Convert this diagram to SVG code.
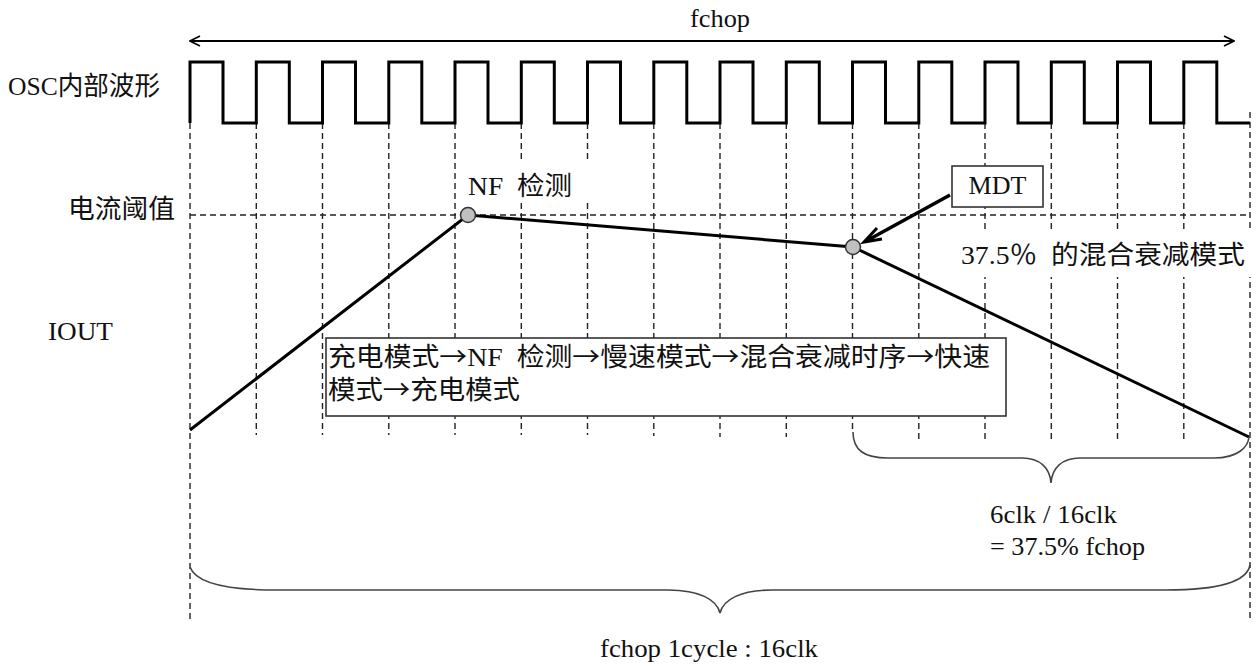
<svg xmlns="http://www.w3.org/2000/svg" width="1259" height="666" viewBox="0 0 1259 666">
<style>
.t{font-family:"Liberation Serif","Noto Sans CJK SC",serif;font-size:26px;fill:#111}
.ar{font-family:"Noto Sans CJK SC","DejaVu Sans",sans-serif}
.dash{stroke:#222;stroke-width:1.4;stroke-dasharray:6 4;fill:none}
.thick{stroke:#000;stroke-width:3;fill:none}
.brace{stroke:#444;stroke-width:1.6;fill:none}
.dot{fill:#c0c0c0;stroke:#333;stroke-width:1.5}
.box{fill:#fff;stroke:#333;stroke-width:1.6}
</style>
<defs>
<marker id="open" viewBox="0 0 12 12" refX="11" refY="6" markerWidth="12" markerHeight="12" markerUnits="userSpaceOnUse" orient="auto-start-reverse">
<path d="M1,1 L11,6 L1,11" fill="none" stroke="#000" stroke-width="1.6"/>
</marker>
</defs>
<rect width="1259" height="666" fill="#fff"/>
<g id="grid">
<line class="dash" x1="190" y1="123" x2="190" y2="622"/>
<line class="dash" x1="256.3" y1="123" x2="256.3" y2="435"/>
<line class="dash" x1="322.5" y1="123" x2="322.5" y2="435"/>
<line class="dash" x1="388.8" y1="123" x2="388.8" y2="435"/>
<line class="dash" x1="455" y1="123" x2="455" y2="435"/>
<line class="dash" x1="521.3" y1="123" x2="521.3" y2="435"/>
<line class="dash" x1="587.5" y1="123" x2="587.5" y2="435"/>
<line class="dash" x1="653.8" y1="123" x2="653.8" y2="436"/>
<line class="dash" x1="720" y1="123" x2="720" y2="437"/>
<line class="dash" x1="786.3" y1="123" x2="786.3" y2="437"/>
<line class="dash" x1="852.5" y1="123" x2="852.5" y2="432"/>
<line class="dash" x1="918.8" y1="123" x2="918.8" y2="440"/>
<line class="dash" x1="985" y1="123" x2="985" y2="440"/>
<line class="dash" x1="1051.3" y1="123" x2="1051.3" y2="440"/>
<line class="dash" x1="1117.5" y1="123" x2="1117.5" y2="440"/>
<line class="dash" x1="1183.8" y1="123" x2="1183.8" y2="440"/>
<line class="dash" x1="1250" y1="112" x2="1250" y2="622"/>
<line class="dash" x1="190" y1="215" x2="1250" y2="215"/>
</g>
<g id="osc-wave">
<path class="thick" d="M190,123 V62 H223 V123 H256.3 V62 H289.3 V123 H322.5 V62 H355.5 V123 H388.8 V62 H421.8 V123 H455 V62 H488 V123 H521.3 V62 H554.3 V123 H587.5 V62 H620.5 V123 H653.8 V62 H686.8 V123 H720 V62 H753 V123 H786.3 V62 H819.3 V123 H852.5 V62 H885.5 V123 H918.8 V62 H951.8 V123 H985 V62 H1018 V123 H1051.3 V62 H1084.3 V123 H1117.5 V62 H1150.5 V123 H1183.8 V62 H1216.8 V123 H1250"/>
</g>
<g id="labels">
<text class="t" x="8" y="95" textLength="152" lengthAdjust="spacingAndGlyphs">OSC内部波形</text>
<text class="t" x="68" y="218" textLength="107" lengthAdjust="spacingAndGlyphs">电流阈值</text>
<text class="t" x="48" y="340" textLength="65" lengthAdjust="spacingAndGlyphs">IOUT</text>
<text class="t" x="690" y="27" textLength="60" lengthAdjust="spacingAndGlyphs">fchop</text>
</g>
<g id="connectors">
<line x1="190" y1="41" x2="1234" y2="41" stroke="#000" stroke-width="2" marker-start="url(#open)" marker-end="url(#open)"/>
<polyline class="thick" points="190,430 468,215 853,247 1249,437"/>
<line x1="950" y1="195" x2="868" y2="240" stroke="#000" stroke-width="3.5"/>
<path d="M877,228 L864,242 L882,239" fill="none" stroke="#000" stroke-width="3"/>
</g>
<g id="nf-label">
<rect x="462" y="163" width="132" height="37" fill="#fff"/>
<text class="t" x="468" y="195" textLength="104" lengthAdjust="spacingAndGlyphs" xml:space="preserve">NF  检测</text>
</g>
<g id="nf-point"><circle class="dot" cx="468" cy="215" r="7.5"/></g>
<g id="mdt-point"><circle class="dot" cx="853" cy="247" r="7.5"/></g>
<g id="mdt-box">
<rect class="box" x="952" y="166" width="91" height="41"/>
<text class="t" x="997.5" y="194" text-anchor="middle">MDT</text>
</g>
<g id="mix-label">
<rect x="942" y="231" width="314" height="46" fill="#fff"/>
<text class="t" x="961" y="264" textLength="284" lengthAdjust="spacingAndGlyphs" xml:space="preserve">37.5％  的混合衰减模式</text>
</g>
<g id="sequence-box">
<rect class="box" x="326" y="338" width="680" height="78"/>
<text class="t" x="328" y="366" textLength="662" lengthAdjust="spacingAndGlyphs" xml:space="preserve">充电模式<tspan class="ar">→</tspan>NF  检测<tspan class="ar">→</tspan>慢速模式<tspan class="ar">→</tspan>混合衰减时序<tspan class="ar">→</tspan>快速</text>
<text class="t" x="328" y="399" textLength="192" lengthAdjust="spacingAndGlyphs">模式<tspan class="ar">→</tspan>充电模式</text>
</g>
<g id="mix-brace">
<path class="brace" d="M853,432 C853,450 864,458 888,458 L1022,458 C1040,458 1050,468 1051,483 C1052,468 1062,458 1080,458 L1214,458 C1238,458 1248,447 1249,437"/>
<text class="t" x="990" y="523" textLength="127" lengthAdjust="spacingAndGlyphs">6clk / 16clk</text>
<text class="t" x="990" y="555" textLength="155" lengthAdjust="spacingAndGlyphs">= 37.5% fchop</text>
</g>
<g id="cycle-brace">
<path class="brace" d="M190,567 C196,584 228,590 276,590 L668,590 C700,590 717,600 720,613 C723,600 740,590 772,590 L1166,590 C1218,590 1247,582 1250,565"/>
<text class="t" x="600" y="657" textLength="218" lengthAdjust="spacingAndGlyphs">fchop 1cycle : 16clk</text>
</g>
</svg>
